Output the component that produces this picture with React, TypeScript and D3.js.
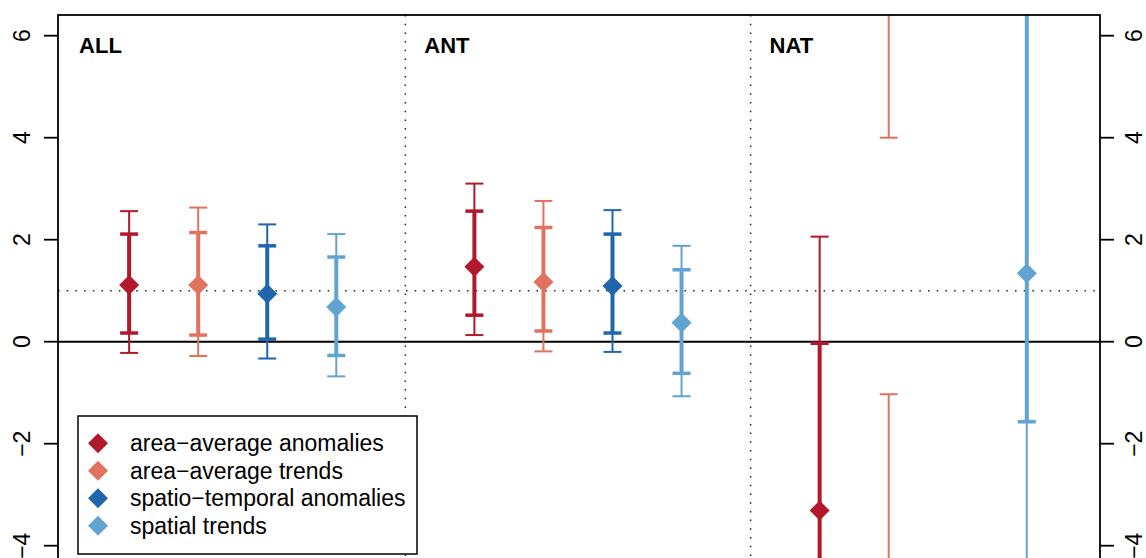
import * as d3 from 'd3';
import React, { useEffect, useRef } from 'react';

// panels and series
const groups = ['ALL', 'ANT', 'NAT'];
const seriesNames = [
  'area\u2212average anomalies',
  'area\u2212average trends',
  'spatio\u2212temporal anomalies',
  'spatial trends',
];
const seriesColors = ['#b2182b', '#e0735f', '#2166ac', '#62a4d1'];
const yTicks = [-4, -2, 0, 2, 4, 6];

// per panel: [best, innerLo, innerHi, outerLo, outerHi]
// lo > hi means the interval is open (runs to +/- infinity on both sides)
const areaAvgAnomalies = [
  [1.11, 0.17, 2.11, -0.22, 2.56],
  [1.47, 0.52, 2.56, 0.13, 3.1],
  [-3.31, -Infinity, -0.03, -Infinity, 2.06],
];
const areaAvgTrends = [
  [1.11, 0.13, 2.14, -0.28, 2.63],
  [1.17, 0.21, 2.24, -0.19, 2.76],
  [NaN, NaN, NaN, 4.0, -1.03],
];
const spatioTemporalAnomalies = [
  [0.94, 0.05, 1.88, -0.33, 2.3],
  [1.09, 0.17, 2.11, -0.2, 2.58],
  [NaN, NaN, NaN, NaN, NaN],
];
const spatialTrends = [
  [0.68, -0.27, 1.66, -0.68, 2.11],
  [0.37, -0.62, 1.41, -1.07, 1.88],
  [1.34, -1.57, Infinity, -Infinity, Infinity],
];
const allSeries = [areaAvgAnomalies, areaAvgTrends, spatioTemporalAnomalies, spatialTrends];

const width = 1146;
const height = 558;
const frameLeft = 58;
const frameRight = 1100;
const frameTop = 15;
const frameBottom = 582;
const font = '"Liberation Sans", Arial, Helvetica, sans-serif';

function segments(lo: number, hi: number): [number, number][] {
  if (isNaN(lo) || isNaN(hi)) return [];
  if (lo <= hi) return [[lo, hi]];
  return [[-Infinity, hi], [lo, Infinity]];
}

const lim = (v: number) => Math.max(-50, Math.min(50, v));

export default function App() {
  const svgRef = useRef<SVGSVGElement | null>(null);

  useEffect(() => {
    const x = d3.scaleLinear().domain([-0.03, 15.06]).range([frameLeft, frameRight]);
    const y = d3.scaleLinear().domain([-4, 6]).range([545.7, 35.7]);

    const svg = d3.select(svgRef.current)
      .attr('width', width)
      .attr('height', height)
      .attr('viewBox', `0 0 ${width} ${height}`)
      .style('font-family', font);

    svg.selectAll('*').remove();

    svg.append('defs').append('clipPath')
      .attr('id', 'plot-clip')
      .append('rect')
      .attr('x', frameLeft)
      .attr('y', frameTop)
      .attr('width', frameRight - frameLeft)
      .attr('height', frameBottom - frameTop);

    const plot = svg.append('g').attr('clip-path', 'url(#plot-clip)');

    // reference lines
    plot.append('line')
      .attr('x1', frameLeft).attr('x2', frameRight)
      .attr('y1', y(1)).attr('y2', y(1))
      .attr('stroke', '#222').attr('stroke-width', 1.5)
      .attr('stroke-dasharray', '1.5 7.2');
    [5, 10].forEach(u => {
      plot.append('line')
        .attr('x1', x(u)).attr('x2', x(u))
        .attr('y1', frameTop).attr('y2', frameBottom)
        .attr('stroke', '#222').attr('stroke-width', 1.5)
        .attr('stroke-dasharray', '1.5 7.2');
    });
    plot.append('line')
      .attr('x1', frameLeft).attr('x2', frameRight)
      .attr('y1', y(0)).attr('y2', y(0))
      .attr('stroke', '#000').attr('stroke-width', 2);

    const diamond = d3.symbol(d3.symbolSquare, 200);

    // error bars
    allSeries.forEach((series, si) => {
      const color = seriesColors[si];
      series.forEach((est, gi) => {
        const [best, iLo, iHi, oLo, oHi] = est;
        const cx = x(gi * 5 + si + 1);
        const g = plot.append('g');

        segments(oLo, oHi).forEach(([a, b]) => {
          g.append('line')
            .attr('x1', cx).attr('x2', cx)
            .attr('y1', y(lim(a))).attr('y2', y(lim(b)))
            .attr('stroke', color).attr('stroke-width', 2);
        });
        segments(iLo, iHi).forEach(([a, b]) => {
          g.append('line')
            .attr('x1', cx).attr('x2', cx)
            .attr('y1', y(lim(a))).attr('y2', y(lim(b)))
            .attr('stroke', color).attr('stroke-width', 4);
        });
        [oLo, oHi].filter(v => isFinite(v)).forEach(v => {
          g.append('line')
            .attr('x1', cx - 9).attr('x2', cx + 9)
            .attr('y1', y(v)).attr('y2', y(v))
            .attr('stroke', color).attr('stroke-width', 2);
        });
        [iLo, iHi].filter(v => isFinite(v)).forEach(v => {
          g.append('line')
            .attr('x1', cx - 9).attr('x2', cx + 9)
            .attr('y1', y(v)).attr('y2', y(v))
            .attr('stroke', color).attr('stroke-width', 3.5);
        });
        if (isFinite(best)) {
          g.append('path')
            .attr('d', diamond)
            .attr('transform', `translate(${cx},${y(best)}) rotate(45)`)
            .attr('fill', color);
        }
      });
    });

    // panel labels
    groups.forEach((name, gi) => {
      svg.append('text')
        .attr('x', x(gi * 5) + 19)
        .attr('y', 52.5)
        .attr('font-size', 22)
        .attr('font-weight', 'bold')
        .attr('fill', '#000')
        .text(name);
    });

    // frame
    svg.append('rect')
      .attr('x', frameLeft).attr('y', frameTop)
      .attr('width', frameRight - frameLeft)
      .attr('height', frameBottom - frameTop)
      .attr('fill', 'none')
      .attr('stroke', '#000').attr('stroke-width', 1.8);

    // axes, left and right, labels parallel to the axis
    const fmt = d3.format('');
    const leftAxis = svg.append('g');
    const rightAxis = svg.append('g');
    yTicks.forEach(t => {
      leftAxis.append('line')
        .attr('x1', frameLeft - 14).attr('x2', frameLeft)
        .attr('y1', y(t)).attr('y2', y(t))
        .attr('stroke', '#000').attr('stroke-width', 1.8);
      leftAxis.append('text')
        .attr('transform', `translate(22,${y(t)}) rotate(-90)`)
        .attr('text-anchor', 'middle')
        .attr('dominant-baseline', 'central')
        .attr('font-size', 23)
        .text(fmt(t));
      rightAxis.append('line')
        .attr('x1', frameRight).attr('x2', frameRight + 14)
        .attr('y1', y(t)).attr('y2', y(t))
        .attr('stroke', '#000').attr('stroke-width', 1.8);
      rightAxis.append('text')
        .attr('transform', `translate(1134,${y(t)}) rotate(-90)`)
        .attr('text-anchor', 'middle')
        .attr('dominant-baseline', 'central')
        .attr('font-size', 23)
        .text(fmt(t));
    });

    // legend
    const legend = svg.append('g');
    legend.append('rect')
      .attr('x', 78).attr('y', 416)
      .attr('width', 339).attr('height', 138)
      .attr('fill', '#fff')
      .attr('stroke', '#000').attr('stroke-width', 1.5);
    seriesNames.forEach((name, i) => {
      const ly = 443.3 + i * 27.5;
      legend.append('path')
        .attr('d', diamond)
        .attr('transform', `translate(98,${ly}) rotate(45)`)
        .attr('fill', seriesColors[i]);
      legend.append('text')
        .attr('x', 130)
        .attr('y', ly + 8)
        .attr('font-size', 23)
        .attr('fill', '#000')
        .text(name);
    });
  }, []);

  return <svg ref={svgRef} style={{ position: 'absolute', left: 0, top: 0 }}></svg>;
}
